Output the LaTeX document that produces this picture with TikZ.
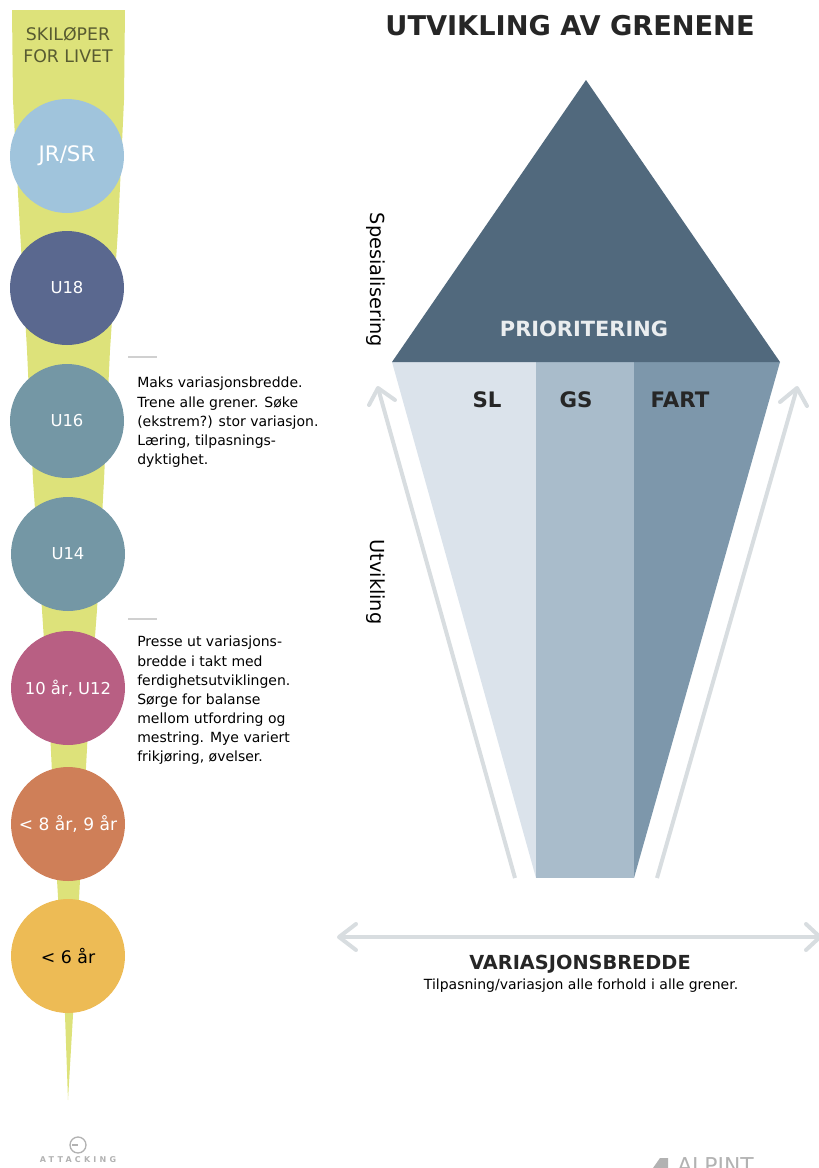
\documentclass[tikz,border=0pt]{standalone}
\usepackage{fontspec}
\setmainfont{DejaVu Sans}
\definecolor{funnel}{HTML}{DDE27A}
\definecolor{cJR}{HTML}{A0C4DC}
\definecolor{cUa}{HTML}{5A688F}
\definecolor{cUb}{HTML}{7497A5}
\definecolor{cTen}{HTML}{B85F83}
\definecolor{cEight}{HTML}{CF7F58}
\definecolor{cSix}{HTML}{EDBB55}
\definecolor{cTop}{HTML}{51697D}
\definecolor{cSL}{HTML}{DBE3EB}
\definecolor{cGS}{HTML}{A9BCCB}
\definecolor{cFART}{HTML}{7D97AB}
\definecolor{cArrow}{HTML}{D8DDE0}
\definecolor{cRule}{HTML}{D0D0D0}
\tikzset{
  x=0.75pt,y=-0.75pt,
  stage/.style={circle,minimum size=85.5pt,inner sep=0pt,font=\fontsize{12.3}{14}\selectfont,text=white},
  para/.style={anchor=north west,align=left,inner sep=0pt,font=\fontsize{10.5}{14.35}\selectfont},
  side/.style={rotate=-90,font=\fontsize{14.5}{16}\selectfont},
  branch/.style={font=\bfseries\fontsize{16}{18}\selectfont,text=black!85},
  flow/.style={draw=cArrow,line width=3pt},
  tipline/.style={draw=cArrow,line width=3pt,line cap=round,line join=round},
  rulemark/.style={draw=cRule,line width=1.5pt},
  logo/.style={text=black!30,inner sep=0pt}
}
\begin{document}
\begin{tikzpicture}
\useasboundingbox (0,0) rectangle (818,1168);
% funnel
\fill[funnel] (12,10) -- (125,10) -- (124,100) -- (118,230) -- (110,350) -- (104,480) -- (97,610) -- (88,730) -- (80,880) -- (73,1015) -- (68,1100) -- (65,1015) -- (57,880) -- (50,730) -- (42,610) -- (33,480) -- (27,350) -- (20,230) -- (13,100) -- cycle;
\node[font=\fontsize{13}{16.5}\selectfont,align=center,text=black!60!funnel] (skier) at (68,45) {SKILØPER\\FOR LIVET};
% stages
\node[stage,fill=cJR,font=\fontsize{16}{18}\selectfont] (jr) at (67,156) {JR/SR};
\node[stage,fill=cUa] (u18) at (67,288) {U18};
\node[stage,fill=cUb] (u16) at (67,421) {U16};
\node[stage,fill=cUb] (u14) at (68,554) {U14};
\node[stage,fill=cTen] (u12) at (68,688) {10 år, U12};
\node[stage,fill=cEight,font=\fontsize{12.8}{14}\selectfont] (u9) at (68,824) {< 8 år, 9 år};
\node[stage,fill=cSix,text=black,font=\fontsize{13}{15}\selectfont] (u6) at (68,956) {< 6 år};
% notes
\coordinate (ma) at (128,357); \coordinate (mb) at (157,357);
\coordinate (mc) at (128,619); \coordinate (md) at (157,619);
\draw[rulemark] (ma) -- (mb);
\draw[rulemark] (mc) -- (md);
\node[para] (noteA) at (137,377) {Maks variasjonsbredde.\\Trene alle grener. Søke\\(ekstrem?) stor variasjon.\\Læring, tilpasnings-\\dyktighet.};
\node[para] (noteB) at (137,636) {Presse ut variasjons-\\bredde i takt med\\ferdighetsutviklingen.\\Sørge for balanse\\mellom utfordring og\\mestring. Mye variert\\frikjøring, øvelser.};
% title
\node[font=\bfseries\fontsize{20.4}{24}\selectfont,text=black!85] (title) at (570,26) {UTVIKLING AV GRENENE};
% shape
\fill[cSL] (392,362) -- (536,362) -- (536,878) -- cycle;
\fill[cGS] (536,362) rectangle (634,878);
\fill[cFART] (634,362) -- (780,362) -- (634,878) -- cycle;
\fill[cTop] (586,80) -- (780,362) -- (392,362) -- cycle;
\node[font=\bfseries\fontsize{15.7}{18}\selectfont,text=white!88!cTop] (prio) at (584,329) {PRIORITERING};
\node[branch] (sl) at (487,400) {SL};
\node[branch] (gs) at (576,400) {GS};
\node[branch] (fart) at (680,400) {FART};
\node[side] (spes) at (376,280) {Spesialisering};
\node[side] (utv) at (376,582) {Utvikling};
% arrows
\coordinate (la) at (515,878); \coordinate (lb) at (378,388);
\coordinate (ra) at (657,878); \coordinate (rb) at (797,388);
\coordinate (ha) at (339,937); \coordinate (hb) at (820,937);
\draw[flow] (la) -- (lb);
\draw[flow] (ra) -- (rb);
\draw[flow] (ha) -- (hb);
\draw[tipline] (369,405) -- (lb) -- (395,400);
\draw[tipline] (780,402) -- (rb) -- (807,406);
\draw[tipline] (356,924) -- (ha) -- (356,950);
\draw[tipline] (806,924) -- (hb) -- (806,950);
% caption
\node[font=\bfseries\fontsize{14.5}{17}\selectfont,text=black!85] (vb) at (580,964) {VARIASJONSBREDDE};
\node[font=\fontsize{10.5}{12}\selectfont] (vbs) at (581,986) {Tilpasning/variasjon alle forhold i alle grener.};
% logos
\draw[draw=black!30,line width=1pt] (78,1145) circle (8);
\coordinate (lg) at (78,1145); \coordinate (lgb) at (72,1145);
\draw[draw=black!30,line width=1pt] (lgb) -- (lg);
\node[logo,font=\bfseries\fontsize{6}{7}\selectfont\addfontfeature{LetterSpace=40}] (att) at (78,1160) {ATTACKING};
\fill[black!30] (653,1168) -- (660,1158) -- (668,1158) -- (668,1168) -- cycle;
\node[logo,font=\fontsize{16.4}{18}\selectfont,anchor=base west] (alp) at (677,1173) {ALPINT};
\end{tikzpicture}
\end{document}
